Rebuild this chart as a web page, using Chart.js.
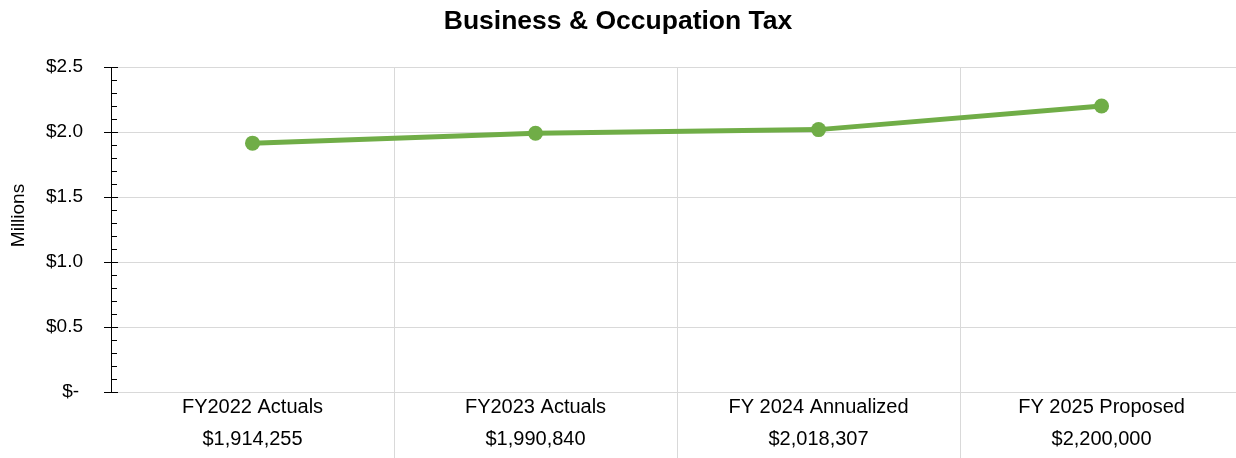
<!DOCTYPE html>
<html>
<head>
<meta charset="utf-8">
<script src="https://cdn.jsdelivr.net/npm/chart.js@4.4.1/dist/chart.umd.min.js"></script>
<style>
  html, body { margin: 0; padding: 0; background: #fff; overflow: hidden; }
  canvas { display: block; }
</style>
</head>
<body>
<canvas id="c" width="1236" height="458" style="width:1236px;height:458px"></canvas>
<script>
// ---- data ----
const categories = ['FY2022 Actuals', 'FY2023 Actuals', 'FY 2024 Annualized', 'FY 2025 Proposed'];
const amountLabels = ['$1,914,255', '$1,990,840', '$2,018,307', '$2,200,000'];
const values = [1.914255, 1.990840, 2.018307, 2.200000]; // millions
const yMin = 0, yMax = 2.5, yMajorStep = 0.5, yMinorStep = 0.1;
const titleText = 'Business & Occupation Tax';
const yAxisTitle = 'Millions';

const GREEN = '#70AD47';
const GRID = '#d9d9d9';
Chart.defaults.color = '#000';

const labels = categories.map((c, i) => [c, amountLabels[i]]);
const points = values.map((v, i) => ({ x: i, y: v }));
// category slots span [i-0.5, i+0.5]; the plot is cut off at the right edge of the picture
const xMin = -0.5, xMax = 3.475;

const axisTicksPlugin = {
  id: 'axisTicks',
  afterDraw(chart) {
    const ctx = chart.ctx;
    const y = chart.scales.y;
    const left = chart.chartArea.left;
    ctx.save();
    ctx.strokeStyle = '#000';
    ctx.lineWidth = 1;
    const n = Math.round((yMax - yMin) / yMinorStep);
    for (let i = 0; i <= n; i++) {
      const v = yMin + i * yMinorStep;
      const py = Math.round(y.getPixelForValue(v)) + 0.5;
      const major = i % Math.round(yMajorStep / yMinorStep) === 0;
      ctx.beginPath();
      if (major) { ctx.moveTo(left - 7, py); ctx.lineTo(left + 7, py); }
      else { ctx.moveTo(left, py); ctx.lineTo(left + 6, py); }
      ctx.stroke();
    }
    // y axis title
    ctx.translate(18.5, 215.5);
    ctx.rotate(-Math.PI / 2);
    ctx.font = '19px "Liberation Sans", Arial, sans-serif';
    ctx.fillStyle = '#000';
    ctx.textAlign = 'center';
    ctx.textBaseline = 'middle';
    ctx.fillText(yAxisTitle, 0, 0);
    ctx.restore();
  }
};

const isCat = (v) => Math.abs(v - Math.round(v)) < 1e-9;

new Chart(document.getElementById('c'), {
  type: 'line',
  data: {
    datasets: [{
      data: points,
      borderColor: GREEN,
      backgroundColor: GREEN,
      borderWidth: 5,
      pointRadius: 7.5,
      pointHoverRadius: 7.5,
      pointBackgroundColor: GREEN,
      pointBorderWidth: 0,
      tension: 0,
      fill: false,
      clip: false
    }]
  },
  options: {
    responsive: false,
    animation: false,
    events: [],
    layout: { padding: 0, autoPadding: false },
    plugins: {
      legend: { display: false },
      tooltip: { enabled: false },
      title: {
        display: true,
        text: titleText,
        color: '#000',
        font: { family: '"Liberation Sans", Arial, sans-serif', size: 26.5, weight: 'bold', lineHeight: 1.2 },
        padding: { top: 6.1, bottom: 29.1 }
      }
    },
    scales: {
      x: {
        type: 'linear',
        min: xMin,
        max: xMax,
        afterBuildTicks(scale) {
          const t = [];
          for (let i = 0; i < categories.length; i++) { t.push({ value: i - 0.5 }); t.push({ value: i }); }
          scale.ticks = t;
        },
        grid: {
          color: (c) => (c.tick && !isCat(c.tick.value) && c.tick.value > xMin + 1e-9 && c.tick.value < xMax - 1e-6) ? GRID : 'rgba(0,0,0,0)',
          lineWidth: 1,
          drawTicks: true,
          tickLength: 66
        },
        border: { color: GRID, width: 1 },
        ticks: {
          autoSkip: false,
          maxRotation: 0,
          minRotation: 0,
          padding: -66,
          color: '#000',
          font: { family: '"Liberation Sans Narrow", "Arial Narrow", "Liberation Sans", sans-serif', size: 20, lineHeight: 1.57 },
          callback: (v) => isCat(v) ? labels[Math.round(v)] : ''
        },
        afterFit(scale) { scale.height = 66; }
      },
      y: {
        min: yMin,
        max: yMax,
        grid: { color: GRID, lineWidth: 1, drawTicks: false },
        border: { color: '#000', width: 1 },
        ticks: {
          stepSize: yMajorStep,
          padding: 28,
          color: '#000',
          font: { family: '"Liberation Sans", Arial, sans-serif', size: 19 },
          callback: (v) => v === 0 ? '$-\u2009' : '$' + Number(v).toFixed(1)
        },
        afterFit(scale) { scale.width = 111; }
      }
    }
  },
  plugins: [axisTicksPlugin]
});
</script>
</body>
</html>
